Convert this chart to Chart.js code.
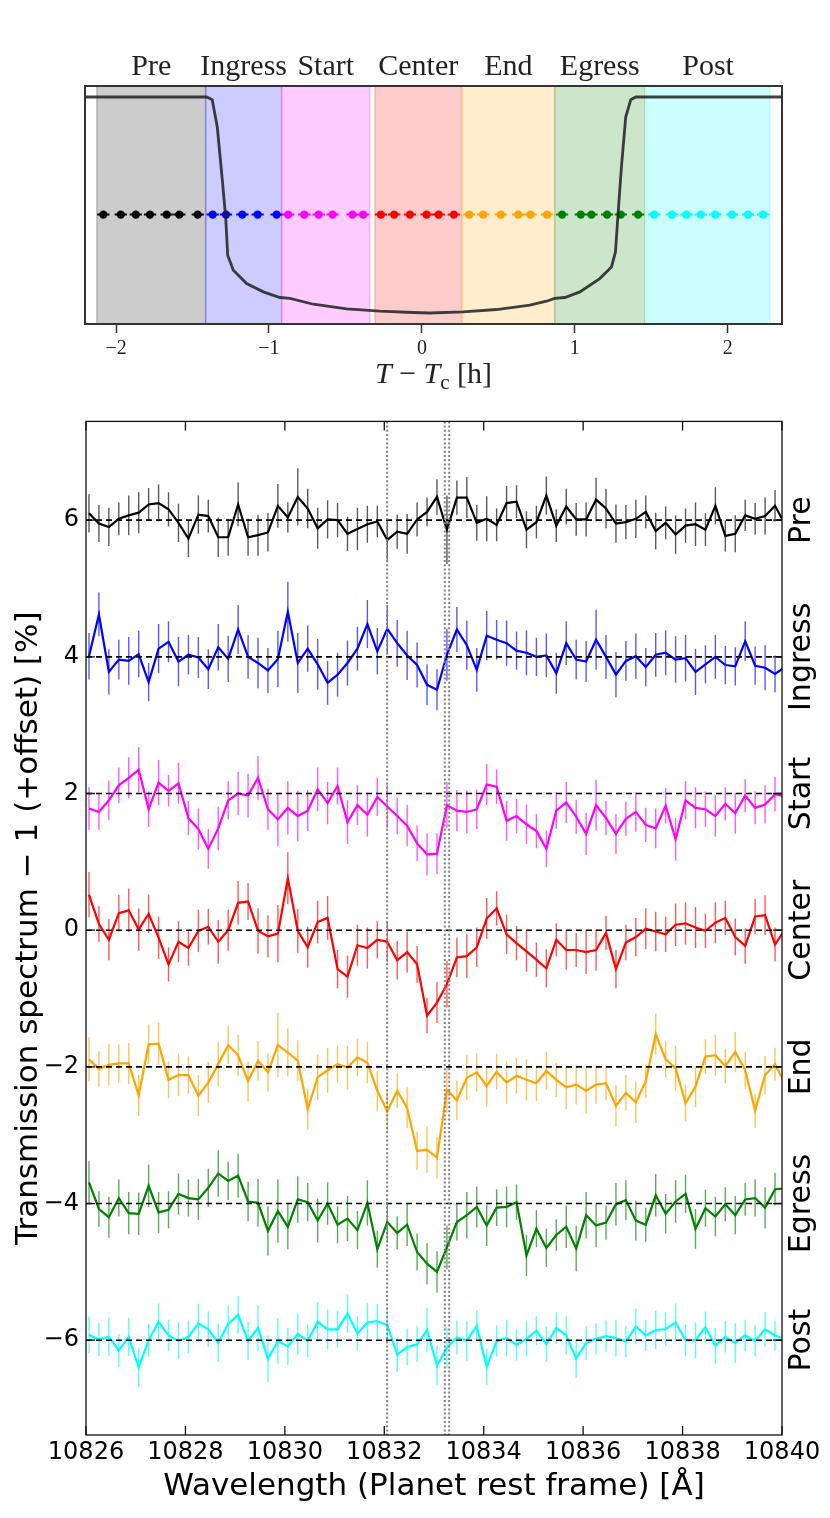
<!DOCTYPE html>
<html>
<head>
<meta charset="utf-8">
<script src="https://cdn.jsdelivr.net/npm/chart.js@4.4.1/dist/chart.umd.min.js"></script>
<style>
    body { margin: 0; background: #fff; width: 830px; height: 1518px; overflow: hidden; }
    #topBox { position: absolute; left: 0; top: 0; width: 830px; height: 400px; }
    #bottomBox { position: absolute; left: 0; top: 400px; width: 830px; height: 1118px; }
</style>
</head>
<body>
<div id="topBox"><canvas id="phaseChart"></canvas></div>
<div id="bottomBox"><canvas id="specChart"></canvas></div>
<script>
// ---- phases (top panel) ----
const phaseNames = ['Pre', 'Ingress', 'Start', 'Center', 'End', 'Egress', 'Post'];
const phaseStart = [-2.126, -1.414, -0.917, -0.307, 0.263, 0.869, 1.468];
const phaseEnd = [-1.414, -0.917, -0.340, 0.259, 0.869, 1.458, 2.275];
const preTimes = [-2.083, -1.969, -1.871, -1.778, -1.669, -1.586, -1.466];
const ingressTimes = [-1.368, -1.281, -1.174, -1.074, -0.950];
const startTimes = [-0.874, -0.769, -0.675, -0.584, -0.453, -0.384];
const centerTimes = [-0.268, -0.181, -0.078, 0.031, 0.110, 0.209];
const endTimes = [0.309, 0.401, 0.516, 0.630, 0.710, 0.819];
const egressTimes = [0.917, 1.039, 1.109, 1.211, 1.301, 1.414];
const postTimes = [1.519, 1.636, 1.730, 1.824, 1.919, 2.028, 2.133, 2.231];
const exposureTimes = [preTimes, ingressTimes, startTimes, centerTimes, endTimes, egressTimes, postTimes];
const exposureHalfWidth = 0.04; // hours
const dotLevel = 0.9902;

// model light curve (relative flux)
const lcTime = [-2.21, -1.407, -1.371, -1.338, -1.309, -1.283, -1.270, -1.233, -1.146, -1.037,
    -0.928, -0.863, -0.710, -0.492, -0.275, -0.057, 0.052, 0.270, 0.488, 0.706,
    0.815, 0.869, 0.935, 1.033, 1.163, 1.240, 1.266, 1.283, 1.305, 1.333,
    1.366, 1.399, 2.36];
const lcFlux = [1.0, 1.0, 0.99978, 0.9975, 0.99362, 0.9900, 0.98681, 0.98556, 0.98445, 0.98376,
    0.98329, 0.98321, 0.98273, 0.98234, 0.98215, 0.98204, 0.98200, 0.98209, 0.98229, 0.98265,
    0.98298, 0.98321, 0.98329, 0.98376, 0.98487, 0.98584, 0.98709, 0.99028, 0.99417, 0.99833,
    0.99978, 1.0, 1.0];
const timeTicks = [-2, -1, 0, 1, 2];

// ---- spectra (bottom panel), values already include the offsets ----
const wavelengths = [
    10826.06, 10826.26, 10826.46, 10826.66, 10826.86,
    10827.06, 10827.26, 10827.46, 10827.66, 10827.86,
    10828.06, 10828.26, 10828.46, 10828.66, 10828.86,
    10829.06, 10829.26, 10829.46, 10829.66, 10829.86,
    10830.06, 10830.26, 10830.46, 10830.66, 10830.86,
    10831.06, 10831.26, 10831.46, 10831.66, 10831.86,
    10832.06, 10832.26, 10832.46, 10832.66, 10832.86,
    10833.06, 10833.26, 10833.46, 10833.66, 10833.86,
    10834.06, 10834.26, 10834.46, 10834.66, 10834.86,
    10835.06, 10835.26, 10835.46, 10835.66, 10835.86,
    10836.06, 10836.26, 10836.46, 10836.66, 10836.86,
    10837.06, 10837.26, 10837.46, 10837.66, 10837.86,
    10838.06, 10838.26, 10838.46, 10838.66, 10838.86,
    10839.06, 10839.26, 10839.46, 10839.66, 10839.86,
    10840.06
];
const offsets = [6, 4, 2, 0, -2, -4, -6];

const specPre = [6.10, 5.95, 5.90, 6.02, 6.07, 6.11, 6.23, 6.25, 6.16, 5.96,
    5.73, 6.08, 6.06, 5.75, 5.75, 6.23, 5.75, 5.78, 5.82, 6.21,
    6.04, 6.34, 6.17, 5.88, 6.01, 6.00, 5.80, 5.87, 5.94, 5.98,
    5.71, 5.83, 5.80, 6.01, 6.12, 6.34, 5.86, 6.33, 6.33, 5.96,
    6.02, 5.93, 6.25, 6.27, 5.86, 5.97, 6.36, 5.92, 6.20, 6.01,
    6.01, 6.30, 6.17, 5.95, 5.97, 6.02, 6.12, 5.84, 5.96, 5.79,
    5.92, 5.94, 5.86, 6.21, 5.77, 5.80, 6.07, 6.02, 6.06, 6.21,
    5.94];
const errPre = [0.28, 0.27, 0.28, 0.24, 0.29, 0.30, 0.24, 0.27, 0.25, 0.28,
    0.27, 0.28, 0.24, 0.29, 0.27, 0.32, 0.27, 0.30, 0.28, 0.32,
    0.22, 0.42, 0.29, 0.30, 0.28, 0.25, 0.25, 0.31, 0.27, 0.23,
    0.29, 0.25, 0.29, 0.25, 0.21, 0.26, 0.50, 0.25, 0.30, 0.26,
    0.33, 0.24, 0.25, 0.24, 0.27, 0.24, 0.28, 0.24, 0.26, 0.24,
    0.25, 0.32, 0.29, 0.28, 0.25, 0.28, 0.24, 0.27, 0.24, 0.28,
    0.25, 0.32, 0.24, 0.27, 0.23, 0.27, 0.23, 0.23, 0.27, 0.23,
    0.25];

const specIngress = [4.01, 4.62, 3.78, 3.96, 3.94, 4.04, 3.63, 4.12, 4.22, 3.93,
    4.03, 3.99, 3.82, 4.14, 3.97, 4.40, 4.00, 3.91, 3.80, 3.97,
    4.66, 3.91, 4.12, 3.89, 3.62, 3.74, 3.91, 4.12, 4.48, 4.08,
    4.41, 4.20, 4.02, 3.88, 3.59, 3.52, 4.03, 4.40, 4.17, 3.81,
    4.31, 4.25, 4.20, 4.09, 4.06, 4.00, 4.02, 3.76, 4.20, 3.96,
    3.93, 4.25, 4.00, 3.74, 3.94, 4.01, 3.85, 4.03, 4.06, 3.96,
    3.98, 3.78, 3.89, 4.00, 3.88, 3.86, 4.23, 3.87, 3.84, 3.75,
    3.85];
const errIngress = [0.34, 0.32, 0.33, 0.29, 0.35, 0.34, 0.28, 0.36, 0.30, 0.36,
    0.29, 0.30, 0.29, 0.34, 0.34, 0.36, 0.32, 0.37, 0.33, 0.41,
    0.44, 0.44, 0.34, 0.37, 0.32, 0.32, 0.33, 0.32, 0.35, 0.34,
    0.35, 0.34, 0.36, 0.33, 0.30, 0.30, 0.38, 0.33, 0.36, 0.32,
    0.36, 0.29, 0.33, 0.28, 0.33, 0.28, 0.32, 0.30, 0.32, 0.29,
    0.30, 0.44, 0.32, 0.33, 0.29, 0.33, 0.28, 0.32, 0.33, 0.34,
    0.34, 0.34, 0.28, 0.32, 0.28, 0.28, 0.29, 0.28, 0.33, 0.27,
    0.30];

const specStart = [1.78, 1.73, 1.90, 2.12, 2.23, 2.35, 1.77, 2.16, 2.04, 2.15,
    1.64, 1.48, 1.19, 1.49, 1.90, 2.00, 1.97, 2.23, 1.77, 1.62,
    1.79, 1.67, 1.75, 2.06, 1.86, 2.11, 1.58, 1.83, 1.69, 1.95,
    1.81, 1.67, 1.53, 1.27, 1.11, 1.12, 1.83, 1.75, 1.73, 1.77,
    2.13, 2.10, 1.60, 1.67, 1.55, 1.45, 1.19, 1.75, 1.87, 1.66,
    1.41, 1.83, 1.64, 1.41, 1.63, 1.73, 1.54, 1.49, 1.82, 1.33,
    1.90, 1.79, 1.77, 1.67, 1.85, 1.71, 1.97, 1.79, 1.84, 1.99,
    1.96];
const errStart = [0.31, 0.26, 0.29, 0.26, 0.30, 0.33, 0.26, 0.33, 0.23, 0.30,
    0.25, 0.30, 0.29, 0.32, 0.28, 0.32, 0.32, 0.32, 0.30, 0.39,
    0.39, 0.37, 0.30, 0.32, 0.31, 0.27, 0.32, 0.29, 0.32, 0.28,
    0.32, 0.27, 0.30, 0.26, 0.31, 0.30, 0.34, 0.30, 0.31, 0.29,
    0.30, 0.25, 0.29, 0.25, 0.29, 0.25, 0.27, 0.27, 0.30, 0.25,
    0.31, 0.37, 0.25, 0.29, 0.25, 0.29, 0.25, 0.29, 0.26, 0.31,
    0.28, 0.30, 0.26, 0.30, 0.24, 0.30, 0.24, 0.24, 0.28, 0.25,
    0.25];

const specCenter = [0.52, 0.09, -0.14, 0.25, 0.29, 0.01, 0.24, -0.11, -0.50, -0.17,
    -0.26, -0.01, 0.05, -0.17, 0.00, 0.40, 0.42, -0.01, -0.09, -0.05,
    0.76, -0.01, -0.25, 0.12, 0.18, -0.57, -0.68, -0.22, -0.26, -0.14,
    -0.17, -0.44, -0.32, -0.50, -1.25, -1.06, -0.79, -0.40, -0.38, -0.25,
    0.17, 0.32, -0.06, -0.19, -0.31, -0.43, -0.56, -0.14, -0.29, -0.29,
    -0.32, -0.29, -0.04, -0.57, -0.18, -0.10, 0.02, -0.02, -0.06, 0.08,
    0.10, 0.04, -0.01, 0.11, 0.18, -0.10, -0.23, 0.20, 0.22, -0.21,
    0.01];
const errCenter = [0.33, 0.26, 0.30, 0.27, 0.32, 0.31, 0.28, 0.31, 0.25, 0.30,
    0.26, 0.31, 0.26, 0.32, 0.30, 0.32, 0.27, 0.33, 0.31, 0.42,
    0.38, 0.32, 0.30, 0.31, 0.32, 0.28, 0.31, 0.30, 0.30, 0.27,
    0.30, 0.28, 0.30, 0.27, 0.26, 0.30, 0.34, 0.29, 0.32, 0.29,
    0.30, 0.25, 0.29, 0.25, 0.30, 0.25, 0.28, 0.24, 0.29, 0.25,
    0.32, 0.30, 0.25, 0.28, 0.26, 0.28, 0.30, 0.29, 0.26, 0.31,
    0.31, 0.30, 0.25, 0.30, 0.25, 0.27, 0.26, 0.26, 0.29, 0.25,
    0.25];

const specEnd = [-1.89, -2.03, -1.97, -1.95, -1.95, -2.42, -1.67, -1.66, -2.19, -2.12,
    -2.12, -2.42, -2.23, -1.96, -1.68, -1.83, -2.21, -1.91, -2.08, -1.68,
    -1.79, -1.91, -2.62, -2.15, -2.05, -1.96, -2.01, -1.86, -1.94, -2.35,
    -2.65, -2.35, -2.60, -3.23, -3.21, -3.33, -2.34, -2.49, -2.16, -2.08,
    -2.28, -2.07, -2.23, -2.13, -2.19, -2.24, -2.06, -2.19, -2.30, -2.26,
    -2.35, -2.26, -2.24, -2.57, -2.38, -2.52, -2.21, -1.52, -1.89, -2.02,
    -2.53, -2.29, -1.85, -1.83, -1.99, -1.78, -2.05, -2.64, -2.12, -1.96,
    -2.24];
const errEnd = [0.32, 0.26, 0.30, 0.28, 0.30, 0.30, 0.29, 0.31, 0.27, 0.31,
    0.27, 0.30, 0.30, 0.32, 0.28, 0.30, 0.29, 0.29, 0.28, 0.47,
    0.35, 0.30, 0.30, 0.33, 0.33, 0.27, 0.32, 0.27, 0.30, 0.29,
    0.31, 0.25, 0.30, 0.28, 0.34, 0.30, 0.33, 0.29, 0.33, 0.28,
    0.30, 0.26, 0.31, 0.26, 0.30, 0.26, 0.28, 0.25, 0.32, 0.29,
    0.34, 0.28, 0.25, 0.30, 0.26, 0.30, 0.25, 0.30, 0.27, 0.33,
    0.27, 0.30, 0.25, 0.30, 0.25, 0.29, 0.27, 0.25, 0.28, 0.24,
    0.27];

const specEgress = [-3.69, -4.08, -4.20, -3.92, -4.14, -4.15, -3.74, -4.13, -4.09, -3.86,
    -3.92, -3.94, -3.77, -3.56, -3.67, -3.59, -3.97, -3.99, -4.40, -4.11,
    -4.34, -3.94, -3.98, -4.25, -4.00, -4.31, -4.22, -4.39, -3.99, -4.67,
    -4.27, -4.43, -4.31, -4.71, -4.88, -5.00, -4.64, -4.27, -4.17, -4.05,
    -4.32, -4.06, -4.05, -3.98, -4.76, -4.37, -4.65, -4.46, -4.34, -4.66,
    -4.17, -4.32, -4.28, -4.01, -3.95, -4.25, -4.31, -3.88, -4.15, -3.97,
    -3.86, -4.37, -4.07, -4.19, -4.01, -4.17, -3.94, -3.92, -4.06, -3.79,
    -3.78];
const errEgress = [0.31, 0.26, 0.30, 0.27, 0.31, 0.31, 0.31, 0.30, 0.27, 0.30,
    0.27, 0.30, 0.28, 0.34, 0.28, 0.32, 0.29, 0.35, 0.36, 0.46,
    0.33, 0.34, 0.28, 0.32, 0.31, 0.27, 0.33, 0.28, 0.33, 0.27,
    0.29, 0.24, 0.31, 0.27, 0.30, 0.30, 0.32, 0.27, 0.34, 0.30,
    0.30, 0.27, 0.30, 0.26, 0.30, 0.27, 0.28, 0.23, 0.31, 0.33,
    0.34, 0.32, 0.25, 0.31, 0.29, 0.29, 0.25, 0.31, 0.29, 0.31,
    0.28, 0.29, 0.27, 0.29, 0.25, 0.28, 0.24, 0.27, 0.30, 0.24,
    0.25];

const specPost = [-5.92, -5.99, -5.95, -6.15, -5.95, -6.40, -6.00, -5.73, -5.93, -6.01,
    -5.95, -5.75, -5.84, -6.04, -5.76, -5.63, -6.01, -5.82, -6.27, -6.01,
    -6.09, -5.91, -6.01, -5.73, -5.84, -5.84, -5.61, -5.90, -5.74, -5.72,
    -5.78, -6.21, -6.10, -6.06, -5.85, -6.37, -6.11, -5.96, -6.01, -5.79,
    -6.39, -6.01, -5.97, -6.07, -5.98, -5.86, -6.06, -5.82, -5.93, -6.27,
    -6.04, -5.98, -5.94, -5.97, -6.02, -5.80, -5.93, -5.85, -5.84, -5.74,
    -6.00, -6.00, -5.81, -6.08, -5.95, -6.04, -5.93, -6.01, -5.84, -5.93,
    -5.98];
const errPost = [0.27, 0.24, 0.28, 0.24, 0.28, 0.29, 0.24, 0.27, 0.23, 0.27,
    0.24, 0.28, 0.26, 0.28, 0.27, 0.28, 0.28, 0.33, 0.34, 0.33,
    0.27, 0.30, 0.24, 0.29, 0.29, 0.27, 0.28, 0.25, 0.28, 0.25,
    0.27, 0.25, 0.27, 0.26, 0.32, 0.29, 0.30, 0.25, 0.29, 0.23,
    0.26, 0.23, 0.27, 0.23, 0.26, 0.21, 0.26, 0.23, 0.28, 0.28,
    0.25, 0.23, 0.23, 0.27, 0.23, 0.26, 0.23, 0.28, 0.25, 0.28,
    0.23, 0.26, 0.23, 0.26, 0.23, 0.29, 0.23, 0.23, 0.25, 0.22,
    0.25];

const spectra = [specPre, specIngress, specStart, specCenter, specEnd, specEgress, specPost];
const spectraErr = [errPre, errIngress, errStart, errCenter, errEnd, errEgress, errPost];
const heLines = [10832.057, 10833.217, 10833.306];
const waveTicks = [10826, 10828, 10830, 10832, 10834, 10836, 10838, 10840];
const offsetTicks = [6, 4, 2, 0, -2, -4, -6];

// colours (r,g,b) for the seven phases
const phaseRGB = ['0,0,0', '0,0,255', '255,0,255', '255,0,0', '255,165,0', '0,128,0', '0,255,255'];

Chart.defaults.font.family = '"DejaVu Sans", sans-serif';
Chart.defaults.color = '#000';

function rgba(c, a) {
    return 'rgba(' + c + ',' + a + ')';
}

function minusSign(v) {
    return v < 0 ? '\u2212' + Math.abs(v) : String(v);
}

// ---------------- top panel ----------------
// shaded phase intervals + the little exposure bars under the dots
const phaseSpans = {
    id: 'phaseSpans',
    beforeDatasetsDraw(chart) {
        const { ctx, chartArea: a, scales: { x, y } } = chart;
        ctx.save();
        ctx.beginPath();
        ctx.rect(a.left, a.top, a.width, a.height);
        ctx.clip();
        phaseNames.forEach((name, p) => {
            const x0 = x.getPixelForValue(phaseStart[p]);
            const x1 = x.getPixelForValue(phaseEnd[p]);
            ctx.fillStyle = rgba(phaseRGB[p], 0.2);
            ctx.fillRect(x0, a.top, x1 - x0, a.height);
            ctx.strokeStyle = rgba(phaseRGB[p], 0.2);
            ctx.lineWidth = 1.5;
            ctx.strokeRect(x0, a.top - 2, x1 - x0, a.height + 4);
        });
        ctx.lineWidth = 2;
        exposureTimes.forEach((times, p) => {
            ctx.strokeStyle = rgba(phaseRGB[p], 1);
            ctx.beginPath();
            times.forEach(t => {
                const py = y.getPixelForValue(dotLevel);
                ctx.moveTo(x.getPixelForValue(t - exposureHalfWidth), py);
                ctx.lineTo(x.getPixelForValue(t + exposureHalfWidth), py);
            });
            ctx.stroke();
        });
        ctx.restore();
    }
};

// frame, phase names and the T - Tc axis title
const phaseDecor = {
    id: 'phaseDecor',
    afterDraw(chart) {
        const { ctx, chartArea: a, scales: { x } } = chart;
        ctx.save();
        ctx.strokeStyle = '#333';
        ctx.lineWidth = 2;
        ctx.strokeRect(a.left, a.top, a.width, a.height);

        ctx.fillStyle = '#222';
        ctx.font = '30px "Liberation Serif"';
        ctx.textAlign = 'center';
        ctx.textBaseline = 'alphabetic';
        phaseNames.forEach((name, p) => {
            const cx = (x.getPixelForValue(phaseStart[p]) + x.getPixelForValue(phaseEnd[p])) / 2;
            ctx.fillText(name, cx, 75);
        });

        const big = '30px "Liberation Serif"';
        const parts = [
            ['T', 'italic ' + big, 0],
            [' \u2212 ', big, 0],
            ['T', 'italic ' + big, 0],
            ['c', '21px "Liberation Serif"', 6],
            [' [h]', big, 0]
        ];
        let total = 0;
        parts.forEach(pt => { ctx.font = pt[1]; total += ctx.measureText(pt[0]).width; });
        let px = (a.left + a.right) / 2 - total / 2;
        ctx.textAlign = 'left';
        parts.forEach(pt => {
            ctx.font = pt[1];
            ctx.fillText(pt[0], px, 383 + pt[2]);
            px += ctx.measureText(pt[0]).width;
        });
        ctx.restore();
    }
};

const phaseDatasets = [{
    data: lcTime.map((t, i) => ({ x: t, y: lcFlux[i] })),
    showLine: true,
    borderColor: 'rgba(30,30,30,0.85)',
    borderWidth: 2.8,
    pointRadius: 0,
    clip: 0
}];
exposureTimes.forEach((times, p) => {
    phaseDatasets.push({
        data: times.map(t => ({ x: t, y: dotLevel })),
        showLine: false,
        pointRadius: 4.2,
        pointBorderWidth: 0,
        backgroundColor: rgba(phaseRGB[p], 1),
        borderColor: rgba(phaseRGB[p], 1)
    });
});

const phaseChart = new Chart(document.getElementById('phaseChart'), {
    type: 'scatter',
    data: { datasets: phaseDatasets },
    options: {
        responsive: true,
        maintainAspectRatio: false,
        animation: false,
        events: [],
        layout: { padding: { left: 85, right: 48, top: 86, bottom: 0 } },
        plugins: { legend: { display: false }, tooltip: { enabled: false } },
        scales: {
            x: {
                type: 'linear',
                min: -2.203,
                max: 2.355,
                afterBuildTicks: s => { s.ticks = timeTicks.map(v => ({ value: v })); },
                afterFit: s => { s.height = 76; },
                grid: { drawOnChartArea: false, drawTicks: true, tickLength: 9, tickColor: '#333', tickWidth: 1.5 },
                border: { display: false },
                ticks: {
                    font: { family: '"Liberation Serif"', size: 20 },
                    color: '#222',
                    padding: 4,
                    maxRotation: 0,
                    callback: v => minusSign(v)
                }
            },
            y: { display: false, min: 0.981083, max: 1.000917 }
        }
    },
    plugins: [phaseSpans, phaseDecor]
});

// ---------------- bottom panel ----------------
const errorBars = {
    id: 'errorBars',
    beforeDatasetsDraw(chart) {
        const { ctx, chartArea: a, scales: { x, y } } = chart;
        ctx.save();
        ctx.beginPath();
        ctx.rect(a.left, a.top, a.width, a.height);
        ctx.clip();
        ctx.lineWidth = 1.4;
        spectra.forEach((vals, s) => {
            ctx.strokeStyle = rgba(phaseRGB[s], 0.65);
            ctx.beginPath();
            vals.forEach((v, i) => {
                const px = x.getPixelForValue(wavelengths[i]);
                ctx.moveTo(px, y.getPixelForValue(v + spectraErr[s][i]));
                ctx.lineTo(px, y.getPixelForValue(v - spectraErr[s][i]));
            });
            ctx.stroke();
        });
        ctx.restore();
    }
};

const refLines = {
    id: 'refLines',
    afterDatasetsDraw(chart) {
        const { ctx, chartArea: a, scales: { x, y } } = chart;
        ctx.save();
        // zero level of every spectrum
        ctx.strokeStyle = '#000';
        ctx.lineWidth = 1.6;
        ctx.setLineDash([6, 4]);
        offsets.forEach(o => {
            const py = y.getPixelForValue(o);
            ctx.beginPath();
            ctx.moveTo(a.left, py);
            ctx.lineTo(a.right, py);
            ctx.stroke();
        });
        // He I triplet
        ctx.strokeStyle = 'rgba(128,128,128,1)';
        ctx.lineWidth = 2;
        ctx.setLineDash([2, 2.2]);
        heLines.forEach(w => {
            const px = x.getPixelForValue(w);
            ctx.beginPath();
            ctx.moveTo(px, a.top);
            ctx.lineTo(px, a.bottom);
            ctx.stroke();
        });
        ctx.restore();
    }
};

const specDecor = {
    id: 'specDecor',
    afterDraw(chart) {
        const { ctx, chartArea: a, scales: { x, y } } = chart;
        ctx.save();
        ctx.strokeStyle = '#111';
        ctx.lineWidth = 1.3;
        ctx.strokeRect(a.left, a.top, a.width, a.height);
        // inward ticks on all four sides
        ctx.beginPath();
        waveTicks.forEach(w => {
            const px = x.getPixelForValue(w);
            ctx.moveTo(px, a.bottom); ctx.lineTo(px, a.bottom - 9);
            ctx.moveTo(px, a.top); ctx.lineTo(px, a.top + 9);
        });
        offsetTicks.forEach(v => {
            const py = y.getPixelForValue(v);
            ctx.moveTo(a.left, py); ctx.lineTo(a.left + 9, py);
            ctx.moveTo(a.right, py); ctx.lineTo(a.right - 9, py);
        });
        ctx.stroke();
        // phase names on the right side
        ctx.fillStyle = '#000';
        ctx.font = '30px "DejaVu Sans"';
        ctx.textAlign = 'center';
        ctx.textBaseline = 'middle';
        phaseNames.forEach((name, p) => {
            ctx.save();
            ctx.translate(802, y.getPixelForValue(offsets[p]));
            ctx.rotate(-Math.PI / 2);
            ctx.fillText(name, 0, 0);
            ctx.restore();
        });
        ctx.restore();
    }
};

const specChart = new Chart(document.getElementById('specChart'), {
    type: 'scatter',
    data: {
        datasets: spectra.map((vals, s) => ({
            data: vals.map((v, i) => ({ x: wavelengths[i], y: v })),
            showLine: true,
            borderColor: rgba(phaseRGB[s], 1),
            borderWidth: 2.2,
            pointRadius: 0,
            tension: 0,
            clip: 0
        }))
    },
    options: {
        responsive: true,
        maintainAspectRatio: false,
        animation: false,
        events: [],
        layout: { padding: { left: 0, right: 48, top: 19, bottom: 0 } },
        plugins: { legend: { display: false }, tooltip: { enabled: false } },
        scales: {
            x: {
                type: 'linear',
                min: 10826,
                max: 10840,
                afterBuildTicks: s => { s.ticks = waveTicks.map(v => ({ value: v })); },
                afterFit: s => { s.height = 83; },
                grid: { display: false, drawTicks: false },
                border: { display: false },
                ticks: { font: { size: 24 }, padding: 3, maxRotation: 0, autoSkip: false, callback: v => String(v) },
                title: {
                    display: true,
                    text: 'Wavelength (Planet rest frame) [\u00c5]',
                    font: { size: 31 },
                    padding: { top: 0, bottom: 12 }
                }
            },
            y: {
                min: -7.387,
                max: 7.445,
                afterBuildTicks: s => { s.ticks = offsetTicks.map(v => ({ value: v })); },
                afterFit: s => { s.width = 86; },
                grid: { display: false, drawTicks: false },
                border: { display: false },
                ticks: { font: { size: 24 }, padding: 7, callback: v => minusSign(v) },
                title: {
                    display: true,
                    text: 'Transmission spectrum \u2212 1 (+offset) [%]',
                    font: { size: 31 },
                    padding: { top: 10, bottom: 0 }
                }
            }
        }
    },
    plugins: [errorBars, refLines, specDecor]
});
</script>
</body>
</html>
